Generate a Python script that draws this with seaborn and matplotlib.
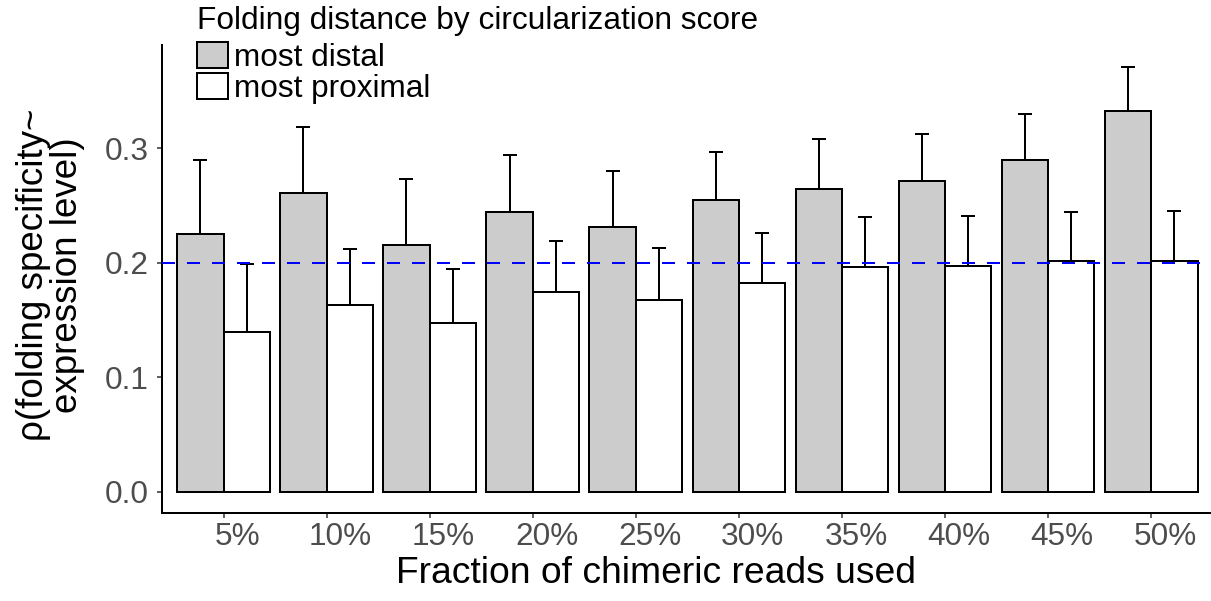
import matplotlib
matplotlib.use("Agg")
import matplotlib.pyplot as plt
import matplotlib.transforms as mtransforms
from matplotlib.patches import Patch
import numpy as np
import pandas as pd
import seaborn as sns

# ---- data ----
fractions = ["5%", "10%", "15%", "20%", "25%", "30%", "35%", "40%", "45%", "50%"]
groups = ["most distal", "most proximal"]
distal_rho = [0.225, 0.261, 0.215, 0.244, 0.231, 0.255, 0.264, 0.271, 0.290, 0.332]
distal_upper = [0.290, 0.318, 0.273, 0.294, 0.280, 0.297, 0.308, 0.312, 0.330, 0.371]
proximal_rho = [0.139, 0.163, 0.147, 0.174, 0.167, 0.182, 0.196, 0.197, 0.201, 0.201]
proximal_upper = [0.199, 0.212, 0.194, 0.219, 0.213, 0.226, 0.240, 0.241, 0.244, 0.245]
reference_rho = 0.2
y_ticks = [0.0, 0.1, 0.2, 0.3]
y_tick_labels = ["0.0", "0.1", "0.2", "0.3"]
legend_title = "Folding distance by circularization score"
x_title = "Fraction of chimeric reads used"
y_title = "\u03c1(folding specificity~\nexpression level)"

df = pd.DataFrame({
    "fraction": fractions * 2,
    "group": [groups[0]] * len(fractions) + [groups[1]] * len(fractions),
    "rho": distal_rho + proximal_rho,
    "upper": distal_upper + proximal_upper,
})

sns.set_theme(style="white")
plt.rcParams["font.family"] = ["Liberation Sans", "DejaVu Sans"]
plt.rcParams["text.color"] = "black"

W, H = 1211, 601
fig = plt.figure(figsize=(W / 100, H / 100), dpi=100)
ax_left, ax_right, ax_top, ax_bottom = 161.7, 1213, 45, 513
ax = fig.add_axes([ax_left / W, 1 - ax_bottom / H, (ax_right - ax_left) / W, (ax_bottom - ax_top) / H])

palette = {groups[0]: "#CCCCCC", groups[1]: "#FFFFFF"}
sns.barplot(data=df, x="fraction", y="rho", hue="group", order=fractions, hue_order=groups,
            palette=palette, saturation=1, width=0.9, gap=0, errorbar=None,
            edgecolor="black", linewidth=1.44, legend=False, ax=ax, zorder=2)

# error bars (upper only) at the bar centres seaborn placed
for cont, g in zip(ax.containers, groups):
    sub = df[df["group"] == g].set_index("fraction").loc[fractions]
    xs = [p.get_x() + p.get_width() / 2 for p in cont]
    vals = sub["rho"].to_numpy()
    ups = sub["upper"].to_numpy()
    ax.errorbar(xs, vals, yerr=[np.zeros_like(vals), ups - vals], fmt="none",
                ecolor="black", elinewidth=1.44, capsize=5.3, capthick=1.44, zorder=1)

ax.axhline(reference_rho, color="#0000FF", lw=1.44, ls=(0, (6.5, 6)), zorder=3)

ax.set_xlim(-0.6, 9.6)
ax.set_ylim(-0.0186, 0.390)
ax.set_yticks(y_ticks)
ax.set_yticklabels(y_tick_labels)

for s in ["top", "right"]:
    ax.spines[s].set_visible(False)
for s in ["left", "bottom"]:
    ax.spines[s].set_linewidth(1.44)
    ax.spines[s].set_color("black")

ax.tick_params(axis="both", which="major", length=3.6, width=1.1, color="#333333",
               labelcolor="#4D4D4D", labelsize=22.7)
ax.tick_params(axis="y", pad=5.8, left=True)
ax.tick_params(axis="x", pad=3, bottom=True)

offset = mtransforms.ScaledTranslation(14 / 100, 0, fig.dpi_scale_trans)
for lab in ax.get_xticklabels():
    lab.set_transform(lab.get_transform() + offset)

ax.set_xlabel(x_title, fontsize=26.8, color="black")
ax.set_ylabel(y_title, fontsize=26.5, color="black", multialignment="center", linespacing=0.95)
ax.xaxis.set_label_coords((656 - ax_left) / (ax_right - ax_left), (ax_bottom - 556) / (ax_bottom - ax_top))
ax.yaxis.set_label_coords((85 - ax_left) / (ax_right - ax_left), (ax_bottom - 275) / (ax_bottom - ax_top))

handles = [Patch(facecolor=palette[g], edgecolor="black", linewidth=1.44) for g in groups]
leg = fig.legend(handles, groups, title=legend_title, loc="upper left",
                 bbox_to_anchor=(197 / W, 1 - 6 / H), frameon=False, fontsize=22.7,
                 title_fontsize=22.8, handlelength=0.98, handleheight=0.92,
                 handletextpad=0.2, labelspacing=0.0, borderpad=0, borderaxespad=0,
                 labelcolor="black")
leg.get_title().set_color("black")
leg._legend_box.align = "left"
leg._legend_box.sep = 4

fig.savefig("out.png", dpi=100)
